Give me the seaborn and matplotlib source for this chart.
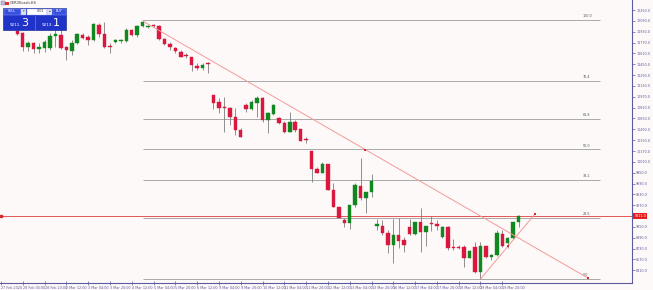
import matplotlib
matplotlib.use("Agg")
import matplotlib.pyplot as plt
import matplotlib.transforms as mtransforms
from matplotlib.patches import Rectangle
import numpy as np
import pandas as pd
import seaborn as sns

# ---------------- data (GER30 H4) ----------------
open_ = [11940, 11911, 11704, 11763, 11675, 11690, 11690, 11867, 11881, 11704,
         11645, 11763, 11881, 11852, 11808, 12029, 11896, 11704, 11778, 11793,
         11793, 11955, 11881, 12014, 11999, 12014, 12014, 11822, 11749, 11690,
         11631, 11572, 11557, 11424, 11395, 11454, 10996, 10893, 10805, 10805,
         10672, 10480, 10849, 10790, 10878, 10952, 10628, 10716, 10657, 10583,
         10451, 10598, 10495, 10333, 10170, 9905, 9846, 9979, 9595, 9344,
         9153, 9108, 9374, 9654, 9477, 9566, 9064, 9064, 8961, 8784,
         8931, 8858, 9049, 8946, 9123, 8976, 9094, 9094, 8902, 9049,
         8740, 8740, 8754, 8592, 8754, 8386, 8770, 8607, 8636, 8946,
         8813, 8887, 9123]
high = [11985, 11926, 11793, 11778, 11763, 11808, 11911, 11955, 11970, 11719,
        11808, 11911, 11911, 11881, 12058, 12058, 12073, 11763, 11822, 11822,
        11985, 11970, 12029, 12103, 12029, 12044, 12029, 11830, 11778, 11704,
        11660, 11616, 11560, 11468, 11468, 11483, 11000, 10952, 10967, 10819,
        10805, 10510, 10878, 10923, 10982, 10960, 10746, 10864, 10665, 10613,
        10746, 10628, 10500, 10377, 10175, 9934, 10008, 9985, 9698, 9350,
        9182, 9380, 9698, 10067, 9572, 9831, 9167, 9153, 9005, 9167,
        9182, 8902, 9167, 9130, 9330, 9070, 9212, 9153, 9064, 9064,
        8872, 8784, 8784, 8710, 8828, 8828, 8775, 8651, 9005, 9005,
        8902, 9128, 9226]
low = [11881, 11645, 11645, 11616, 11616, 11631, 11660, 11704, 11675, 11513,
       11586, 11749, 11822, 11734, 11793, 11852, 11690, 11616, 11763, 11763,
       11778, 11867, 11852, 11999, 11985, 11999, 11808, 11734, 11660, 11616,
       11557, 11542, 11350, 11365, 11365, 11321, 10790, 10731, 10450, 10554,
       10406, 10370, 10746, 10775, 10672, 10598, 10436, 10701, 10569, 10436,
       10445, 10451, 10318, 10288, 9713, 9846, 9840, 9595, 9344, 9182,
       9049, 9020, 9344, 9448, 9256, 9492, 9005, 8931, 8666, 8518,
       8740, 8681, 8931, 8931, 8681, 8770, 8990, 9005, 8887, 8710,
       8710, 8725, 8459, 8585, 8371, 8282, 8592, 8563, 8622, 8754,
       8740, 8872, 9049]
close = [11896, 11704, 11763, 11675, 11704, 11778, 11867, 11896, 11690, 11660,
         11763, 11896, 11837, 11808, 12044, 11896, 11704, 11700, 11808, 11795,
         11955, 11881, 12014, 12073, 12001, 12012, 11822, 11749, 11704, 11645,
         11562, 11570, 11439, 11395, 11439, 11452, 10878, 10805, 10800, 10672,
         10480, 10377, 10790, 10893, 10952, 10628, 10731, 10849, 10583, 10451,
         10598, 10480, 10325, 10330, 9905, 9850, 9979, 9600, 9350, 9188,
         9108, 9374, 9669, 9477, 9566, 9728, 9094, 8961, 8784, 8931,
         8843, 8784, 8946, 9123, 8976, 9064, 9090, 9064, 9049, 8740,
         8736, 8737, 8592, 8695, 8386, 8770, 8607, 8636, 8961, 8770,
         8887, 9123, 9211]

x_labels = ["27 Feb 2020", "28 Feb 04:00", "28 Feb 20:00", "2 Mar 12:00",
            "3 Mar 04:00", "3 Mar 20:00", "4 Mar 12:00", "5 Mar 04:00",
            "5 Mar 20:00", "6 Mar 12:00", "9 Mar 04:00", "9 Mar 20:00",
            "10 Mar 12:00", "11 Mar 04:00", "11 Mar 20:00", "12 Mar 12:00",
            "13 Mar 04:00", "13 Mar 20:00", "16 Mar 12:00", "17 Mar 04:00",
            "17 Mar 20:00", "18 Mar 12:00", "19 Mar 04:00", "19 Mar 20:00"]
x_label_bars = [-3, 1, 5, 9, 13, 17, 21, 25, 29, 33, 37, 41, 45, 49, 53,
                57, 61, 65, 69, 73, 77, 81, 85, 89]

y_ticks = [12250, 12090, 11930, 11770, 11610, 11450, 11290, 11130, 10970,
           10810, 10650, 10490, 10330, 10170, 10010, 9850, 9690, 9530, 9370,
           9210, 9050, 8890, 8730, 8570, 8410]

fib_levels = [0.0, 23.6, 38.2, 50.0, 61.8, 76.4, 100.0]
fib_high = 12103
fib_low = 8282
fib_start_bar = 23
fib_end_bar = 107

trend1_bars = [23, 63.85, 104.7]
trend1_prices = [12088, 10192, 8297]
trend2_bars = [85, 90, 95]
trend2_prices = [8282, 8762, 9241]

symbol_title = "GER30cash,H4"
sell_price = ("9211.", "3")
buy_price = ("9213.", "1")

# ---------------- style ----------------
BG = "#fdf9f8"
AXC = "#5b5b9e"
GREEN = "#10881f"
RED = "#d9173f"
WICK = "#7d7d7d"

sns.set_theme(style="white")
plt.rcParams["font.family"] = ["DejaVu Sans"]

df = pd.DataFrame({"bar": np.arange(len(open_)), "open": open_, "high": high,
                   "low": low, "close": close})

fig = plt.figure(figsize=(6.53, 2.90), dpi=100)
fig.patch.set_facecolor(BG)
ax = fig.add_axes([0, 7 / 290, 632 / 653, 283 / 290])
ax.set_facecolor(BG)
ax.set_xlim(-3.17, 112.8)
ax.set_ylim(8223.25, 12397.5)

# fib lines
rng = fib_high - fib_low
for lvl in fib_levels:
    p = fib_low + rng * lvl / 100.0
    ax.hlines(p, fib_start_bar, fib_end_bar, color="#a9a9a9", lw=0.7, zorder=1)
    ax.text(103.7, p + 25, f"{lvl:.1f}", fontsize=2.4, color="#555555",
            ha="left", va="bottom", zorder=2)

# current price line
last = df["close"].iloc[-1]
ax.axhline(last, color="#e23b3b", lw=0.6, zorder=2)

# candles
wick_x = df["bar"].values
ax.vlines(wick_x, df["low"], df["high"], color=WICK, lw=0.6, zorder=3)
body_bottom = np.minimum(df["open"], df["close"])
body_h = np.maximum(np.abs(df["close"] - df["open"]), 12)
colors = [GREEN if c >= o else RED for o, c in zip(df["open"], df["close"])]
ax.bar(df["bar"], body_h, bottom=body_bottom, width=0.64, color=colors,
       edgecolor=colors, linewidth=0.3, zorder=4)

# trend lines
t1 = pd.DataFrame({"bar": trend1_bars, "price": trend1_prices})
t2 = pd.DataFrame({"bar": trend2_bars, "price": trend2_prices})
sns.lineplot(data=t1, x="bar", y="price", ax=ax, color="#f29a9a", lw=0.7,
             zorder=5, sort=False)
sns.lineplot(data=t2, x="bar", y="price", ax=ax, color="#f29a9a", lw=0.7,
             zorder=5, sort=False)
mk = pd.concat([t1.iloc[1:], t2.iloc[1:]])
sns.scatterplot(data=mk, x="bar", y="price", ax=ax, color="#d42b2b", marker="s",
                s=2.5, linewidth=0, zorder=6)
ax.set_xlabel("")
ax.set_ylabel("")

# axes / ticks
for s in ["left", "top"]:
    ax.spines[s].set_visible(False)
for s in ["bottom", "right"]:
    ax.spines[s].set_color(AXC)
    ax.spines[s].set_linewidth(0.8)
ax.yaxis.tick_right()
ax.set_yticks(y_ticks)
# the price tag hides the tick label it would cover
ax.set_yticklabels(["" if abs(v - last) < 60 else f"{v:.1f}" for v in y_ticks])
ax.tick_params(axis="y", length=2, width=0.5, pad=1, labelsize=2.4,
               colors=AXC, right=True, left=False)
ax.set_xticks(x_label_bars)
ax.set_xticklabels(x_labels)
for t in ax.get_xticklabels():
    t.set_horizontalalignment("left")
ax.tick_params(axis="x", length=3, width=0.5, pad=0.5, labelsize=2.4,
               colors=AXC, bottom=True, direction="inout")
ax.grid(False)

# price tag on the right axis
trans = mtransforms.blended_transform_factory(ax.transAxes, ax.transData)
ax.text(1.004, last, f"{last:.1f}", transform=trans, fontsize=2.4, color="white",
        ha="left", va="center", zorder=10, clip_on=False,
        bbox=dict(boxstyle="square,pad=0.35", fc="#e41e1e", ec="#e41e1e", lw=0))
ax.plot([-2.9], [last], marker="s", ms=1.5, color="#d42b2b", zorder=6,
        clip_on=False)

# ---------------- overlay: title and trading panel (pixel coords) ----------------
ov = fig.add_axes([0, 0, 1, 1], zorder=20)
ov.set_xlim(0, 653)
ov.set_ylim(290, 0)
ov.axis("off")
ov.patch.set_alpha(0)

ov.add_patch(Rectangle((1, 1), 3.5, 4, fc="#c0c0d0", ec="#7070a0", lw=0.3))
ov.add_patch(Rectangle((5, 1.5), 3.5, 3.5, fc="#e03030", ec="none"))
ov.text(10, 3.4, symbol_title, fontsize=2.6, color="#333333", va="center",
        ha="left")

BLUE = "#1f33c9"
ov.add_patch(Rectangle((3, 8), 63, 22, fc=BLUE, ec="#0d1a80", lw=0.4))
ov.add_patch(Rectangle((3.5, 8.5), 17, 6, fc="#3550e0", ec="#9aa8f0", lw=0.3))
ov.text(12, 11.5, "SELL", fontsize=2.4, color="white", ha="center", va="center")
ov.add_patch(Rectangle((21, 8.5), 5, 6, fc="#dfe3f5", ec="#9aa8f0", lw=0.3))
ov.text(23.5, 11.5, "\u25be", fontsize=2.4, color="#333333", ha="center",
        va="center")
ov.add_patch(Rectangle((26.5, 8.5), 20, 6, fc="white", ec="#9aa8f0", lw=0.3))
ov.text(44, 11.5, "0.01", fontsize=2.4, color="#333333", ha="right", va="center")
ov.add_patch(Rectangle((47, 8.5), 5, 6, fc="#dfe3f5", ec="#9aa8f0", lw=0.3))
ov.text(49.5, 11.5, "\u25b4", fontsize=2.4, color="#333333", ha="center",
        va="center")
ov.add_patch(Rectangle((52.5, 8.5), 13, 6, fc="#3550e0", ec="#9aa8f0", lw=0.3))
ov.text(59, 11.5, "BUY", fontsize=2.4, color="white", ha="center", va="center")
ov.plot([34.5, 34.5], [15.5, 29.5], color="#8090e0", lw=0.4)
ov.text(21.5, 25.5, sell_price[0], fontsize=3.0, color="white", ha="right",
        va="baseline")
ov.text(21.5, 26, sell_price[1], fontsize=8, color="white", ha="left",
        va="baseline")
ov.text(53, 25.5, buy_price[0], fontsize=3.0, color="white", ha="right",
        va="baseline")
ov.text(53, 26, buy_price[1], fontsize=8, color="white", ha="left",
        va="baseline")

fig.savefig("out.png", dpi=100, facecolor=BG)
